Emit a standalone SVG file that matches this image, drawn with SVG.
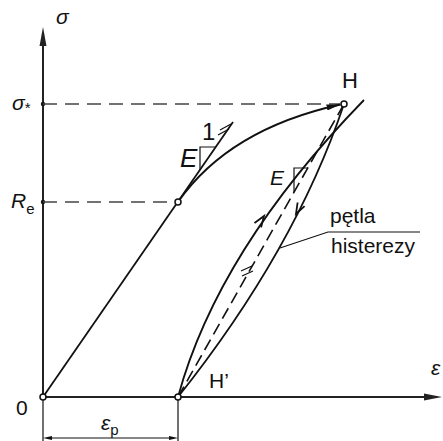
<svg xmlns="http://www.w3.org/2000/svg" width="443" height="441" viewBox="0 0 443 441">
<style>
.ax{stroke:#222;stroke-width:2;fill:none}
.ln{stroke:#111;stroke-width:1.8;fill:none}
.th{stroke:#111;stroke-width:1.2;fill:none}
.ds{stroke:#444;stroke-width:1.6;fill:none;stroke-dasharray:14 8}
.dl{stroke:#111;stroke-width:1.6;fill:none;stroke-dasharray:12 6}
.pt{fill:#fff;stroke:#111;stroke-width:1.5}
.t{font-family:"Liberation Sans",Arial,sans-serif;fill:#111}
.i{font-style:italic}
</style>
<defs>
<marker id="ah" viewBox="0 0 14 6" refX="14" refY="3" markerWidth="14" markerHeight="6" markerUnits="userSpaceOnUse" orient="auto">
<path d="M0,0 L14,3 L0,6 Z" fill="#111"/>
</marker>
</defs>
<g id="axes">
<line class="ax" x1="43" y1="44" x2="43" y2="397"/>
<path d="M43,27 L46.5,46 L39.5,46 Z" fill="#222"/>
<line class="ax" x1="43" y1="397" x2="426" y2="397"/>
<path d="M442,397 L424,393.5 L424,400.5 Z" fill="#222"/>
<circle cx="43" cy="104" r="2.2" fill="#111"/>
<circle cx="43" cy="202" r="2.2" fill="#111"/>
</g>
<g id="connectors">
<line class="ds" x1="43" y1="104" x2="340" y2="104"/>
<line class="ds" x1="43" y1="202" x2="175" y2="202"/>
<line class="ln" x1="43" y1="397" x2="233" y2="122"/>
<path class="ln" d="M178,202 Q229,129 340.5,104.5" marker-end="url(#ah)"/>
<path class="ln" d="M178,397 Q218,250 364,100"/>
<path class="ln" d="M344,104 Q295,250 178,397"/>
<line class="dl" x1="178" y1="397" x2="344" y2="104"/>
<path class="ln" d="M261.1,227.4 L264,216 L254.5,222.9"/>
<path class="ln" d="M304.6,206.2 L296,214 L297.6,202.5"/>
<path class="th" d="M200,170 L200,147 L216,147"/>
<path class="th" d="M294,192 L294,168 L308,168"/>
<path class="th" d="M220,130 L231,124 M218,135 L229,129"/>
<path class="th" d="M241,271 L252,266 M242,276 L253,271"/>
<path class="th" d="M280,248 L328,232 L420,232"/>
<line class="th" x1="43" y1="399" x2="43" y2="441"/>
<line class="th" x1="178" y1="399" x2="178" y2="441"/>
<line class="th" x1="50" y1="438" x2="171" y2="438"/>
<path d="M43,438 L52,436 L52,440 Z" fill="#111"/>
<path d="M178,438 L169,436 L169,440 Z" fill="#111"/>
</g>
<g id="points">
<circle class="pt" cx="43" cy="397" r="3"/>
<circle class="pt" cx="178" cy="397" r="3"/>
<circle class="pt" cx="178" cy="202" r="3"/>
<circle class="pt" cx="344" cy="104" r="3"/>
</g>
<g id="labels">
<text class="t i" x="56" y="24" font-size="21">σ</text>
<text class="t i" x="12" y="110" font-size="21">σ<tspan font-size="15" font-style="normal" dy="3">*</tspan></text>
<text class="t i" x="11" y="208" font-size="21">R<tspan font-size="15" font-style="normal" dy="6">e</tspan></text>
<text class="t" x="16" y="415" font-size="21">0</text>
<text class="t i" x="101" y="430" font-size="21">ε<tspan font-size="15" font-style="normal" dy="5">p</tspan></text>
<text class="t i" x="431" y="375" font-size="21">ε</text>
<text class="t" x="342" y="88" font-size="22">H</text>
<text class="t" x="209" y="388" font-size="21">H’</text>
<text class="t i" x="180" y="167" font-size="26">E</text>
<text class="t" x="202" y="140" font-size="24">1</text>
<text class="t i" x="270" y="185" font-size="21">E</text>
<text class="t" x="330" y="223" font-size="21">pętla</text>
<text class="t" x="331" y="253" font-size="21">histerezy</text>
</g>
</svg>
